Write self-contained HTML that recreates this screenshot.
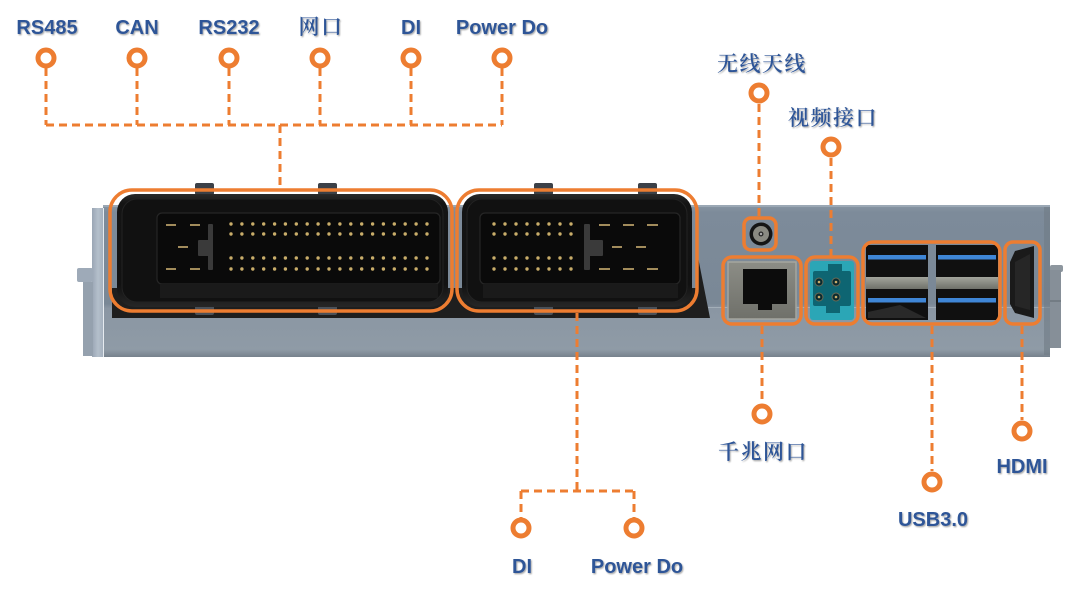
<!DOCTYPE html>
<html>
<head>
<meta charset="utf-8">
<style>
html,body{margin:0;padding:0;background:#fff;}
svg{display:block;}
.lat{font-family:"Liberation Sans",sans-serif;font-weight:bold;font-size:20px;fill:#2E5597;}
.cjk{font-family:"Liberation Serif","Noto Serif CJK SC","Noto Sans CJK SC",serif;font-size:21px;font-weight:600;fill:#2E5597;letter-spacing:1.5px;}
</style>
</head>
<body>
<svg width="1080" height="595" viewBox="0 0 1080 595" xmlns="http://www.w3.org/2000/svg">
<defs>
  <linearGradient id="bodyG" x1="0" y1="0" x2="0" y2="1">
    <stop offset="0" stop-color="#8795a3"/>
    <stop offset="0.05" stop-color="#7d8b9a"/>
    <stop offset="0.65" stop-color="#7a8896"/>
    <stop offset="0.68" stop-color="#8a96a3"/>
    <stop offset="0.95" stop-color="#8f9ba6"/>
    <stop offset="1" stop-color="#76818c"/>
  </linearGradient>
  <linearGradient id="stripG" x1="0" y1="0" x2="1" y2="0">
    <stop offset="0" stop-color="#9aa6b4"/>
    <stop offset="0.5" stop-color="#b4bfcb"/>
    <stop offset="1" stop-color="#a2aebb"/>
  </linearGradient>
  <linearGradient id="houseG" x1="0" y1="0" x2="0" y2="1">
    <stop offset="0" stop-color="#2a2a2a"/>
    <stop offset="0.08" stop-color="#141414"/>
    <stop offset="0.8" stop-color="#121212"/>
    <stop offset="1" stop-color="#262626"/>
  </linearGradient>
  <linearGradient id="tongueG" x1="0" y1="0" x2="0" y2="1">
    <stop offset="0" stop-color="#a3a59c"/>
    <stop offset="1" stop-color="#6f716a"/>
  </linearGradient>
  <linearGradient id="metalG" x1="0" y1="0" x2="0" y2="1">
    <stop offset="0" stop-color="#8c8d86"/>
    <stop offset="1" stop-color="#6f706a"/>
  </linearGradient>
  <filter id="ts" x="-10%" y="-30%" width="130%" height="170%">
    <feDropShadow dx="1" dy="1.2" stdDeviation="0.9" flood-color="#000" flood-opacity="0.35"/>
  </filter>
  <g id="row1" fill="#c9ad6a">
    <circle cx="231" cy="0" r="1.7"/><circle cx="241.9" cy="0" r="1.7"/><circle cx="252.8" cy="0" r="1.7"/><circle cx="263.7" cy="0" r="1.7"/><circle cx="274.6" cy="0" r="1.7"/><circle cx="285.4" cy="0" r="1.7"/><circle cx="296.3" cy="0" r="1.7"/><circle cx="307.2" cy="0" r="1.7"/><circle cx="318.1" cy="0" r="1.7"/><circle cx="329" cy="0" r="1.7"/><circle cx="339.9" cy="0" r="1.7"/><circle cx="350.8" cy="0" r="1.7"/><circle cx="361.7" cy="0" r="1.7"/><circle cx="372.6" cy="0" r="1.7"/><circle cx="383.4" cy="0" r="1.7"/><circle cx="394.3" cy="0" r="1.7"/><circle cx="405.2" cy="0" r="1.7"/><circle cx="416.1" cy="0" r="1.7"/><circle cx="427" cy="0" r="1.7"/>
  </g>
  <g id="row2" fill="#c9ad6a">
    <circle cx="494" cy="0" r="1.7"/><circle cx="505" cy="0" r="1.7"/><circle cx="516" cy="0" r="1.7"/><circle cx="527" cy="0" r="1.7"/><circle cx="538" cy="0" r="1.7"/><circle cx="549" cy="0" r="1.7"/><circle cx="560" cy="0" r="1.7"/><circle cx="571" cy="0" r="1.7"/>
  </g>
</defs>

<rect width="1080" height="595" fill="#fff"/>

<!-- ===== BODY ===== -->
<rect x="103" y="205" width="947" height="152" fill="url(#bodyG)"/>
<rect x="103" y="205" width="947" height="2" fill="#9ba8b5"/>
<rect x="703" y="307" width="347" height="1" fill="#a3aeb8"/>
<rect x="1044" y="207" width="6" height="148" fill="#6f7b86" opacity="0.6"/>
<rect x="92" y="208" width="12" height="149" fill="url(#stripG)"/>
<rect x="103" y="208" width="1" height="149" fill="#e6ebf0"/>
<rect x="77" y="268" width="16" height="14" rx="2" fill="#9eaab8"/>
<rect x="83" y="282" width="10" height="74" fill="#95a1ae"/>
<rect x="1050" y="265" width="13" height="7" rx="2" fill="#8e979f"/>
<rect x="1050" y="270" width="11" height="78" fill="#868f98"/>
<rect x="1050" y="300" width="11" height="2" fill="#737c84"/>

<path d="M112,288 L112,318 L710,318 L697,252 L697,288 Z" fill="#1e1e1e"/>

<!-- ===== CONNECTOR 1 ===== -->
<rect x="195" y="183" width="19" height="12" rx="2" fill="#3b4047"/>
<rect x="318" y="183" width="19" height="12" rx="2" fill="#3b4047"/>
<rect x="195" y="303" width="19" height="12" rx="2" fill="#4a5058"/>
<rect x="318" y="303" width="19" height="12" rx="2" fill="#4a5058"/>
<rect x="117" y="194" width="331" height="113" rx="18" fill="url(#houseG)"/>
<rect x="122" y="199" width="321" height="103" rx="15" fill="#111" stroke="#232323" stroke-width="1"/>
<rect x="157" y="213" width="283" height="71" rx="5" fill="#0a0a0a" stroke="#262626" stroke-width="1.2"/>
<rect x="160" y="284" width="278" height="14" fill="#1a1a1a"/>
<g stroke="#c9ad70" stroke-width="1.6">
  <line x1="166" y1="225" x2="176" y2="225"/>
  <line x1="190" y1="225" x2="200" y2="225"/>
  <line x1="178" y1="247" x2="188" y2="247"/>
  <line x1="166" y1="269" x2="176" y2="269"/>
  <line x1="190" y1="269" x2="200" y2="269"/>
</g>
<rect x="208" y="224" width="5" height="46" rx="1" fill="#3a3a3a"/>
<rect x="198" y="240" width="15" height="16" rx="1" fill="#3a3a3a"/>
<use href="#row1" y="224"/>
<use href="#row1" y="234"/>
<use href="#row1" y="258"/>
<use href="#row1" y="269"/>

<!-- ===== CONNECTOR 2 ===== -->
<rect x="534" y="183" width="19" height="12" rx="2" fill="#3b4047"/>
<rect x="638" y="183" width="19" height="12" rx="2" fill="#3b4047"/>
<rect x="534" y="303" width="19" height="12" rx="2" fill="#4a5058"/>
<rect x="638" y="303" width="19" height="12" rx="2" fill="#4a5058"/>
<rect x="462" y="194" width="230" height="113" rx="18" fill="url(#houseG)"/>
<rect x="467" y="199" width="220" height="103" rx="15" fill="#111" stroke="#232323" stroke-width="1"/>
<rect x="480" y="213" width="200" height="71" rx="5" fill="#0a0a0a" stroke="#262626" stroke-width="1.2"/>
<rect x="483" y="284" width="195" height="14" fill="#1a1a1a"/>
<use href="#row2" y="224"/>
<use href="#row2" y="234"/>
<use href="#row2" y="258"/>
<use href="#row2" y="269"/>
<rect x="584" y="224" width="6" height="46" rx="1" fill="#3a3a3a"/>
<rect x="584" y="240" width="19" height="16" rx="1" fill="#3a3a3a"/>
<g stroke="#c9ad70" stroke-width="1.6">
  <line x1="599" y1="225" x2="610" y2="225"/>
  <line x1="623" y1="225" x2="634" y2="225"/>
  <line x1="647" y1="225" x2="658" y2="225"/>
  <line x1="612" y1="247" x2="622" y2="247"/>
  <line x1="636" y1="247" x2="646" y2="247"/>
  <line x1="599" y1="269" x2="610" y2="269"/>
  <line x1="623" y1="269" x2="634" y2="269"/>
  <line x1="647" y1="269" x2="658" y2="269"/>
</g>

<!-- ===== ANTENNA ===== -->
<circle cx="761" cy="234" r="11.5" fill="#151515"/>
<circle cx="761" cy="234" r="8" fill="#8a8a82"/>
<circle cx="761" cy="234" r="2.5" fill="#2a2a2a"/>
<circle cx="761" cy="234" r="1.2" fill="#aaa"/>

<!-- ===== ETHERNET ===== -->
<rect x="728" y="262" width="68" height="57" fill="url(#metalG)" stroke="#a5a69e" stroke-width="1.5"/>
<rect x="743" y="269" width="44" height="35" fill="#0c0c0c"/>
<rect x="758" y="303" width="14" height="7" fill="#0c0c0c"/>

<!-- ===== VIDEO (teal) ===== -->
<rect x="810" y="261" width="44" height="59" rx="3" fill="#2ba6b6"/>
<rect x="813" y="271" width="38" height="35" rx="2" fill="#0e6572"/>
<rect x="828" y="264" width="14" height="8" fill="#0e6572"/>
<rect x="826" y="305" width="14" height="8" fill="#0e6572"/>
<circle cx="819" cy="282" r="4" fill="#0a2a30" stroke="#6b6b55" stroke-width="1"/>
<circle cx="836" cy="282" r="4" fill="#0a2a30" stroke="#6b6b55" stroke-width="1"/>
<circle cx="819" cy="297" r="4" fill="#0a2a30" stroke="#6b6b55" stroke-width="1"/>
<circle cx="836" cy="297" r="4" fill="#0a2a30" stroke="#6b6b55" stroke-width="1"/>
<circle cx="819" cy="282" r="1.3" fill="#c9ad6a"/>
<circle cx="836" cy="282" r="1.3" fill="#c9ad6a"/>
<circle cx="819" cy="297" r="1.3" fill="#c9ad6a"/>
<circle cx="836" cy="297" r="1.3" fill="#c9ad6a"/>

<!-- ===== USB ===== -->
<rect x="866" y="245" width="62" height="75" fill="#101010"/>
<rect x="936" y="245" width="62" height="75" fill="#101010"/>
<rect x="868" y="255" width="58" height="4.5" fill="#3f86d6"/>
<rect x="938" y="255" width="58" height="4.5" fill="#3f86d6"/>
<rect x="868" y="298" width="58" height="4.5" fill="#3f86d6"/>
<rect x="938" y="298" width="58" height="4.5" fill="#3f86d6"/>
<rect x="866" y="277" width="62" height="12" fill="url(#tongueG)"/>
<rect x="936" y="277" width="62" height="12" fill="url(#tongueG)"/>
<path d="M868,312 L900,305 L926,318 L868,318 Z" fill="#3a3a3a" opacity="0.6"/>

<!-- ===== HDMI ===== -->
<path d="M1010,262 L1015,251 L1034,246 L1034,318 L1015,313 L1010,304 Z" fill="#1a1a1a"/>
<path d="M1015,262 L1030,254 L1030,310 L1015,306 Z" fill="#262626"/>

<!-- ===== ORANGE OUTLINES ===== -->
<g fill="none" stroke="#ED7D31" stroke-width="3.5">
  <rect x="110" y="190" width="342" height="121" rx="22"/>
  <rect x="457" y="190" width="240" height="121" rx="22"/>
  <rect x="744" y="218" width="32" height="32" rx="7"/>
  <rect x="723" y="257" width="78" height="67" rx="9"/>
  <rect x="806" y="257" width="52" height="67" rx="9"/>
  <rect x="863" y="242" width="137" height="82" rx="10"/>
  <rect x="1005" y="242" width="35" height="82" rx="8"/>
</g>

<!-- ===== DASHED LEADERS ===== -->
<g fill="none" stroke="#ED7D31" stroke-width="3" stroke-dasharray="8 5">
  <line x1="46" y1="68" x2="46" y2="125"/>
  <line x1="137" y1="68" x2="137" y2="125"/>
  <line x1="229" y1="68" x2="229" y2="125"/>
  <line x1="320" y1="68" x2="320" y2="125"/>
  <line x1="411" y1="68" x2="411" y2="125"/>
  <line x1="502" y1="68" x2="502" y2="125"/>
  <line x1="46" y1="125" x2="502" y2="125"/>
  <line x1="280" y1="125" x2="280" y2="189"/>
  <line x1="759" y1="104" x2="759" y2="217"/>
  <line x1="831" y1="158" x2="831" y2="256"/>
  <line x1="762" y1="326" x2="762" y2="404"/>
  <line x1="932" y1="326" x2="932" y2="471"/>
  <line x1="1022" y1="326" x2="1022" y2="420"/>
  <line x1="577" y1="313" x2="577" y2="491"/>
  <line x1="521" y1="491" x2="634" y2="491"/>
  <line x1="521" y1="491" x2="521" y2="518"/>
  <line x1="634" y1="491" x2="634" y2="518"/>
</g>

<!-- ===== RING MARKERS ===== -->
<g fill="#fff" stroke="#ED7D31" stroke-width="5">
  <circle cx="46" cy="58" r="8"/>
  <circle cx="137" cy="58" r="8"/>
  <circle cx="229" cy="58" r="8"/>
  <circle cx="320" cy="58" r="8"/>
  <circle cx="411" cy="58" r="8"/>
  <circle cx="502" cy="58" r="8"/>
  <circle cx="759" cy="93" r="8"/>
  <circle cx="831" cy="147" r="8"/>
  <circle cx="762" cy="414" r="8"/>
  <circle cx="932" cy="482" r="8"/>
  <circle cx="1022" cy="431" r="8"/>
  <circle cx="521" cy="528" r="8"/>
  <circle cx="634" cy="528" r="8"/>
</g>

<!-- ===== LABELS ===== -->
<g filter="url(#ts)">
  <text class="lat" x="47" y="34" text-anchor="middle">RS485</text>
  <text class="lat" x="137" y="34" text-anchor="middle">CAN</text>
  <text class="lat" x="229" y="34" text-anchor="middle">RS232</text>
  <text class="cjk" x="321" y="34" text-anchor="middle">网口</text>
  <text class="lat" x="411" y="34" text-anchor="middle">DI</text>
  <text class="lat" x="502" y="34" text-anchor="middle">Power Do</text>
  <text class="cjk" x="762" y="71" text-anchor="middle">无线天线</text>
  <text class="cjk" x="833" y="125" text-anchor="middle">视频接口</text>
  <text class="cjk" x="763" y="459" text-anchor="middle">千兆网口</text>
  <text class="lat" x="933" y="526" text-anchor="middle">USB3.0</text>
  <text class="lat" x="1022" y="473" text-anchor="middle">HDMI</text>
  <text class="lat" x="522" y="573" text-anchor="middle">DI</text>
  <text class="lat" x="637" y="573" text-anchor="middle">Power Do</text>
</g>
</svg>
</body>
</html>
